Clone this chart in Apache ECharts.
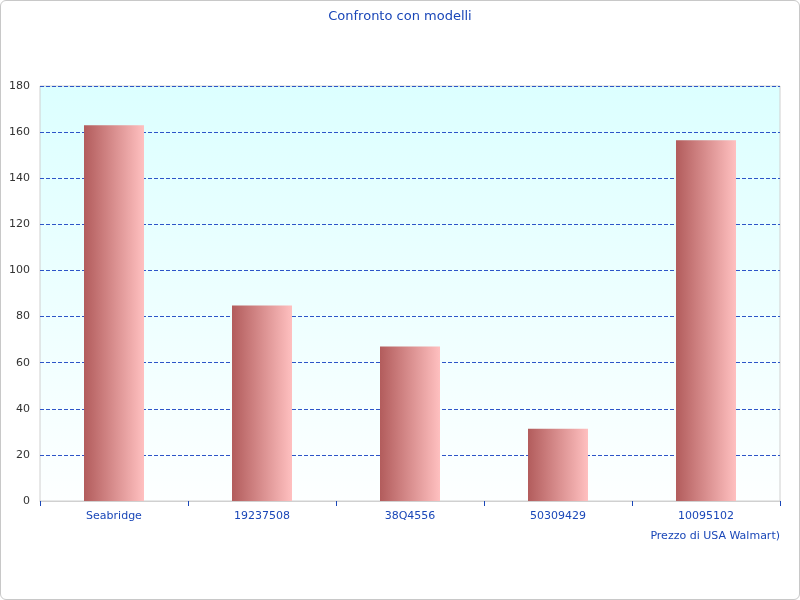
<!doctype html>
<html>
<head>
<meta charset="UTF-8">
<script src="https://cdn.jsdelivr.net/npm/echarts@6/dist/echarts.min.js"></script>
<style>
html,body{margin:0;padding:0;background:#fff;}
#main{width:798px;height:598px;border:1px solid #c8c8c8;border-radius:6px;}
</style>
</head>
<body>
<div id="main"></div>
<script>
var categories = ['Seabridge', '19237508', '38Q4556', '50309429', '10095102'];
var prices = [163, 84.8, 67, 31.3, 156.5];
var yTicks = { min: 0, max: 180, interval: 20 };

var chart = echarts.init(document.getElementById('main'));
var blue = '#1a47b8';
chart.setOption({
    title: {
        text: 'Confronto con modelli',
        left: 'center',
        top: 4,
        textStyle: { color: blue, fontSize: 13, fontWeight: 'normal', fontFamily: 'DejaVu Sans' }
    },
    grid: {
        left: 39, right: 19, top: 85, bottom: 98,
        show: true,
        borderColor: '#d0d0d0',
        backgroundColor: new echarts.graphic.LinearGradient(0, 0, 0, 1, [
            { offset: 0, color: '#dcffff' },
            { offset: 1, color: '#fdffff' }
        ])
    },
    xAxis: {
        type: 'category',
        data: categories,
        name: 'Prezzo di USA Walmart)',
        nameLocation: 'end',
        nameGap: 0,
        nameTextStyle: { color: blue, fontSize: 11, fontFamily: 'DejaVu Sans', align: 'right', verticalAlign: 'top', padding: [30, 0, 0, 0] },
        axisLine: { lineStyle: { color: '#d0d0d0' } },
        axisTick: { show: true, lineStyle: { color: blue } },
        axisLabel: { color: blue, fontSize: 11, fontFamily: 'DejaVu Sans', margin: 10 }
    },
    yAxis: {
        type: 'value',
        min: yTicks.min, max: yTicks.max, interval: yTicks.interval,
        axisLine: { show: false },
        axisTick: { show: false },
        axisLabel: { color: '#333', fontSize: 11, fontFamily: 'DejaVu Sans', margin: 10 },
        splitLine: { lineStyle: { color: '#2d55c8', type: 'dashed', width: 1 } }
    },
    series: [{
        type: 'bar',
        data: prices,
        barWidth: 60,
        itemStyle: {
            color: new echarts.graphic.LinearGradient(0, 0, 1, 0, [
                { offset: 0, color: '#b25c5c' },
                { offset: 1, color: '#ffc0c0' }
            ])
        }
    }]
});
</script>
</body>
</html>
